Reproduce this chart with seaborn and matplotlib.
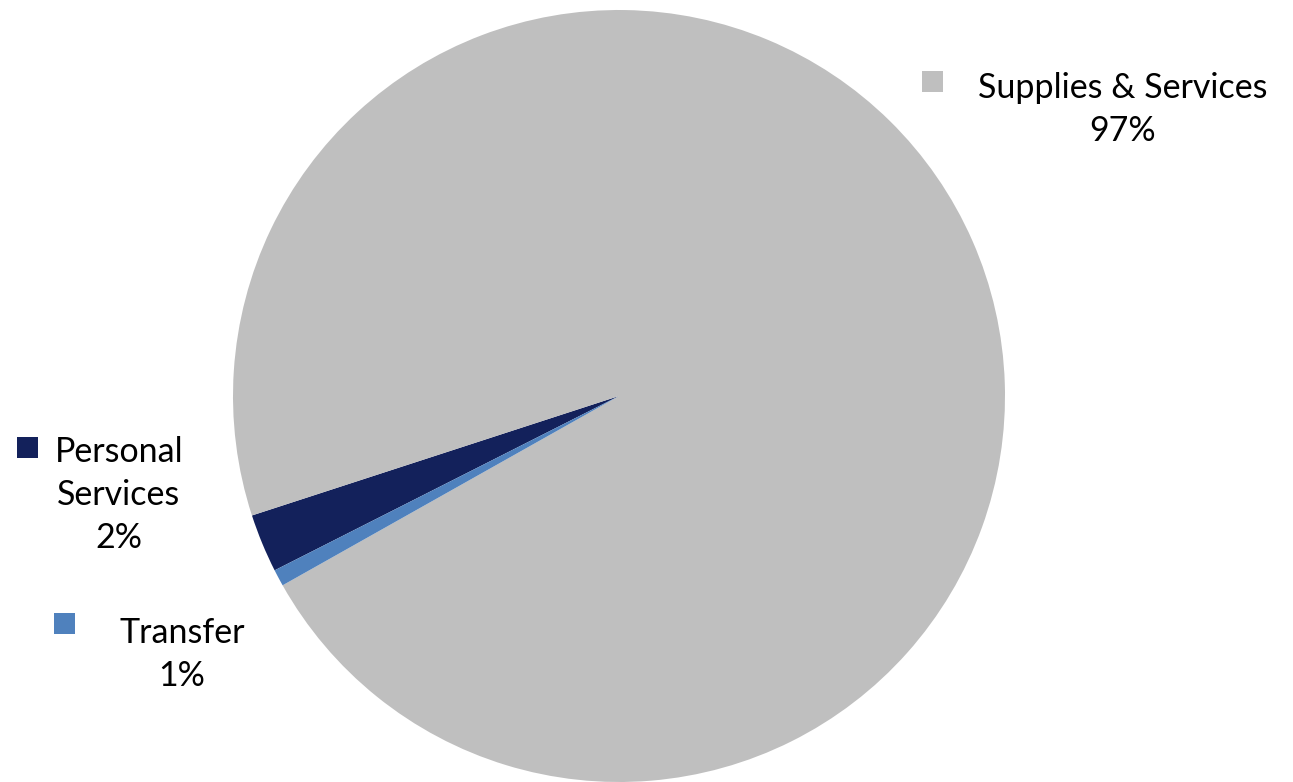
import matplotlib
matplotlib.use("Agg")
import matplotlib.pyplot as plt
import seaborn as sns

# Budget shares by expense category (percent of total)
categories = ["Personal Services", "Supplies & Services", "Transfer"]
label_lines = ["Personal\nServices", "Supplies & Services", "Transfer"]
shares = [2.45, 96.85, 0.70]
colors = ["#13215B", "#BFBFBF", "#4F81BD"]

sns.set_theme(style="white")
plt.rcParams["font.family"] = ["Lato", "DejaVu Sans"]

W, H, DPI = 1293, 782, 100
fig = plt.figure(figsize=(W / DPI, H / DPI), dpi=DPI)
fig.patch.set_facecolor("white")
ax = fig.add_axes([0, 0, 1, 1])

cx, cy, r = 619.0, 396.0, 386.0  # pie centre and radius in pixels (y from top)
wedges, _ = ax.pie(shares, colors=sns.color_palette(colors), startangle=206.85,
                   counterclock=False, radius=1.0,
                   wedgeprops=dict(linewidth=0))
ax.set_xlim(-cx / r, (W - cx) / r)
ax.set_ylim(-(H - cy) / r, cy / r)
ax.set_aspect("auto")
ax.axis("off")

total = sum(shares)
# label block anchor (x centre, top y in px) and key square (left, top) in px
label_pos = [(119, 436), (1123, 72), (182, 617)]
key_pos = [(17, 437), (922, 71), (54, 613)]
key_size = 21
for name, val, col, (tx, ty), (kx, ky) in zip(label_lines, shares, colors, label_pos, key_pos):
    txt = f"{name}\n{round(val / total * 100)}%"
    fig.text(tx / W, 1 - ty / H, txt, ha="center", va="top", fontsize=24.5,
             color="black", linespacing=1.42, multialignment="center")
    fig.patches.append(plt.Rectangle((kx / W, 1 - (ky + key_size) / H),
                                     key_size / W, key_size / H,
                                     transform=fig.transFigure, facecolor=col,
                                     edgecolor="none", figure=fig))

fig.savefig("out.png", dpi=DPI, facecolor="white")
